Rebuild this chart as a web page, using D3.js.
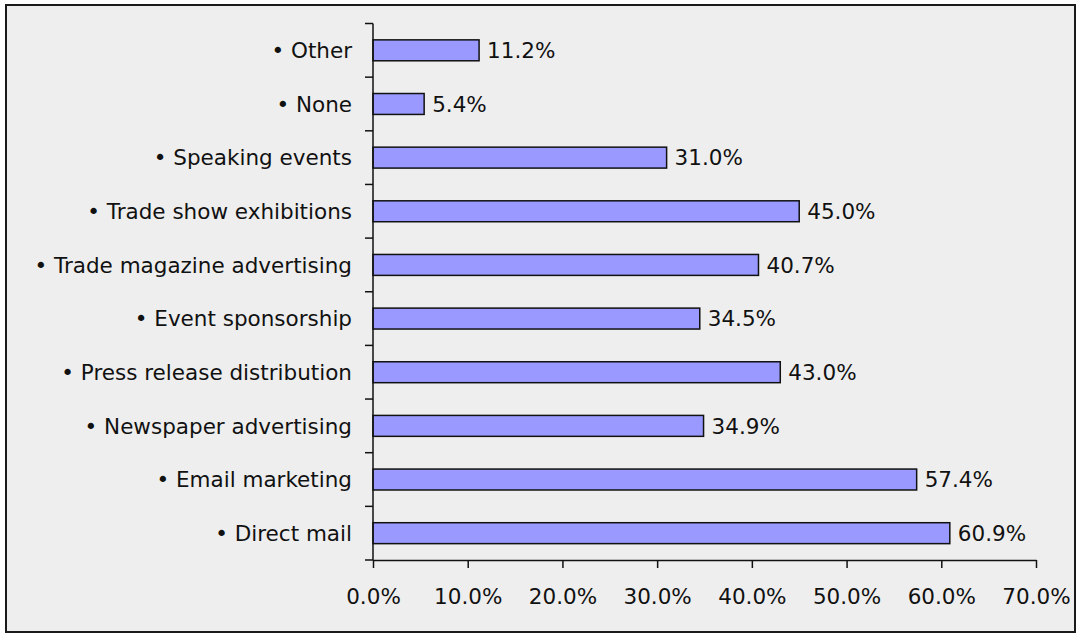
<!DOCTYPE html>
<html>
<head>
<meta charset="utf-8">
<script src="https://cdn.jsdelivr.net/npm/d3@7"></script>
<style>
  html, body { margin: 0; padding: 0; background: #ffffff; }
  svg { display: block; }
  text { font-family: "DejaVu Sans", Verdana, sans-serif; fill: #111; }
</style>
</head>
<body>
<svg id="chart" width="1080" height="637"></svg>
<script>
// Marketing channels, listed top to bottom
const categories = [
  "• Other",
  "• None",
  "• Speaking events",
  "• Trade show exhibitions",
  "• Trade magazine advertising",
  "• Event sponsorship",
  "• Press release distribution",
  "• Newspaper advertising",
  "• Email marketing",
  "• Direct mail"
];
// Share of respondents (%)
const values = [11.2, 5.4, 31.0, 45.0, 40.7, 34.5, 43.0, 34.9, 57.4, 60.9];
const xTicks = [0, 10, 20, 30, 40, 50, 60, 70];

const svg = d3.select("#chart");

// frame and background
svg.append("rect")
  .attr("x", 6).attr("y", 5)
  .attr("width", 1069).attr("height", 627)
  .attr("fill", "#eeeeee")
  .attr("stroke", "#1a1a1a")
  .attr("stroke-width", 2);

const plotLeft = 373, plotRight = 1036, plotTop = 23.5, plotBottom = 560;
const fontSize = 21.5;

const x = d3.scaleLinear().domain([0, 70]).range([plotLeft, plotRight]);
const y = d3.scaleBand().domain(categories).range([plotTop, plotBottom]).paddingInner(0.61).paddingOuter(0.305);

const data = categories.map((c, i) => ({ c, v: values[i] }));

// bars
svg.append("g").selectAll("rect")
  .data(data)
  .join("rect")
  .attr("x", x(0))
  .attr("y", d => y(d.c))
  .attr("width", d => x(d.v) - x(0))
  .attr("height", y.bandwidth())
  .attr("fill", "#9999ff")
  .attr("stroke", "#111")
  .attr("stroke-width", 1.5);

// value labels
svg.append("g").selectAll("text")
  .data(data)
  .join("text")
  .attr("x", d => x(d.v) + 8)
  .attr("y", d => y(d.c) + y.bandwidth() / 2)
  .attr("dy", "0.36em")
  .attr("font-size", fontSize)
  .text(d => d.v.toFixed(1) + "%");

// x axis
const xAxis = d3.axisBottom(x)
  .tickValues(xTicks)
  .tickFormat(d => d.toFixed(1) + "%")
  .tickSize(8)
  .tickSizeOuter(0)
  .tickPadding(21);
const gx = svg.append("g").attr("transform", `translate(0,${plotBottom})`).call(xAxis);
gx.select(".domain").attr("stroke", "#111").attr("stroke-width", 1.5);
gx.selectAll(".tick line").attr("stroke", "#111").attr("stroke-width", 1.5);
gx.selectAll("text").attr("font-size", fontSize).attr("fill", "#111")
  .attr("font-family", "\"DejaVu Sans\", Verdana, sans-serif");

// y axis: ticks at band boundaries
const yBoundaries = d3.range(categories.length + 1)
  .map(i => plotTop + i * (plotBottom - plotTop) / categories.length);
const gy = svg.append("g");
gy.append("line")
  .attr("x1", plotLeft).attr("x2", plotLeft)
  .attr("y1", plotTop).attr("y2", plotBottom)
  .attr("stroke", "#111").attr("stroke-width", 1.5);
gy.selectAll("line.tk")
  .data(yBoundaries)
  .join("line")
  .attr("class", "tk")
  .attr("x1", plotLeft - 8).attr("x2", plotLeft)
  .attr("y1", d => d).attr("y2", d => d)
  .attr("stroke", "#111").attr("stroke-width", 1.5);

// category labels
gy.selectAll("text")
  .data(categories)
  .join("text")
  .attr("x", plotLeft - 21)
  .attr("y", d => y(d) + y.bandwidth() / 2)
  .attr("dy", "0.36em")
  .attr("text-anchor", "end")
  .attr("font-size", fontSize)
  .text(d => d);
</script>
</body>
</html>
